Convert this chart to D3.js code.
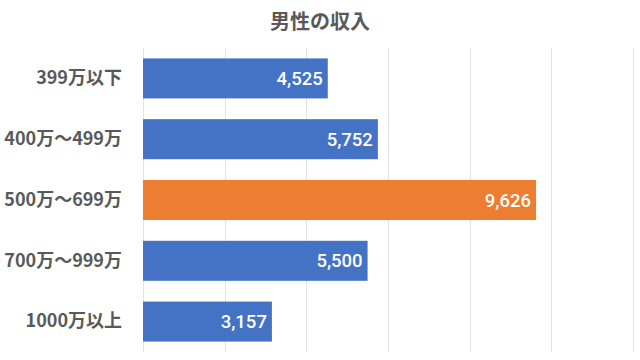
<!DOCTYPE html>
<html><head><meta charset="utf-8">
<script src="https://cdn.jsdelivr.net/npm/d3@7"></script>
<style>html,body{margin:0;padding:0;background:#fff;}</style>
</head><body>
<svg id="chart" width="640" height="360"></svg>
<script>
const title = "男性の収入";
const categories = ["399万以下", "400万～499万", "500万～699万", "700万～999万", "1000万以上"];
const values = [4525, 5752, 9626, 5500, 3157];
const highlight = [false, false, true, false, false];
const xTicks = [0, 2000, 4000, 6000, 8000, 10000, 12000];

const svg = d3.select("#chart");
const m = {left: 143, right: 7, top: 48, bottom: 8};
const W = 640, H = 360;
const x = d3.scaleLinear().domain([0, 12000]).range([m.left, W - m.right]);
const y = d3.scaleBand().domain(categories).range([m.top, H - m.bottom]).paddingInner(0.342).paddingOuter(0.171);

svg.append("g").selectAll("line").data(xTicks).join("line")
  .attr("x1", d => Math.round(x(d)) + 0.5).attr("x2", d => Math.round(x(d)) + 0.5)
  .attr("y1", m.top).attr("y2", H - m.bottom)
  .attr("stroke", "#e3e3e3").attr("stroke-width", 1);

svg.append("text").attr("x", 320).attr("y", 29).attr("text-anchor", "middle")
  .attr("font-family", "'Noto Sans CJK JP', sans-serif").attr("font-weight", "bold")
  .attr("font-size", 20).attr("fill", "#595959").text(title);

const data = categories.map((c, i) => ({c, v: values[i], h: highlight[i]}));

svg.append("g").selectAll("rect").data(data).join("rect")
  .attr("x", x(0)).attr("y", d => y(d.c))
  .attr("width", d => x(d.v) - x(0)).attr("height", y.bandwidth())
  .attr("fill", d => d.h ? "#ED7D31" : "#4472C4");

svg.append("g").selectAll("text").data(data).join("text")
  .attr("x", d => x(d.v) - 5).attr("y", d => y(d.c) + y.bandwidth() / 2)
  .attr("dy", "0.36em").attr("text-anchor", "end")
  .attr("font-family", "Roboto, sans-serif").attr("font-size", 18.5).attr("font-weight", 500)
  .attr("fill", "#fff").text(d => d3.format(",")(d.v));

const yAxis = svg.append("g").attr("transform", `translate(${m.left},0)`)
  .call(d3.axisLeft(y).tickSize(0).tickPadding(21));
yAxis.select(".domain").remove();
yAxis.selectAll("text").attr("font-family", "'Noto Sans CJK JP', sans-serif")
  .attr("font-weight", "bold").attr("font-size", 18).attr("fill", "#595959");
</script>
</body></html>
